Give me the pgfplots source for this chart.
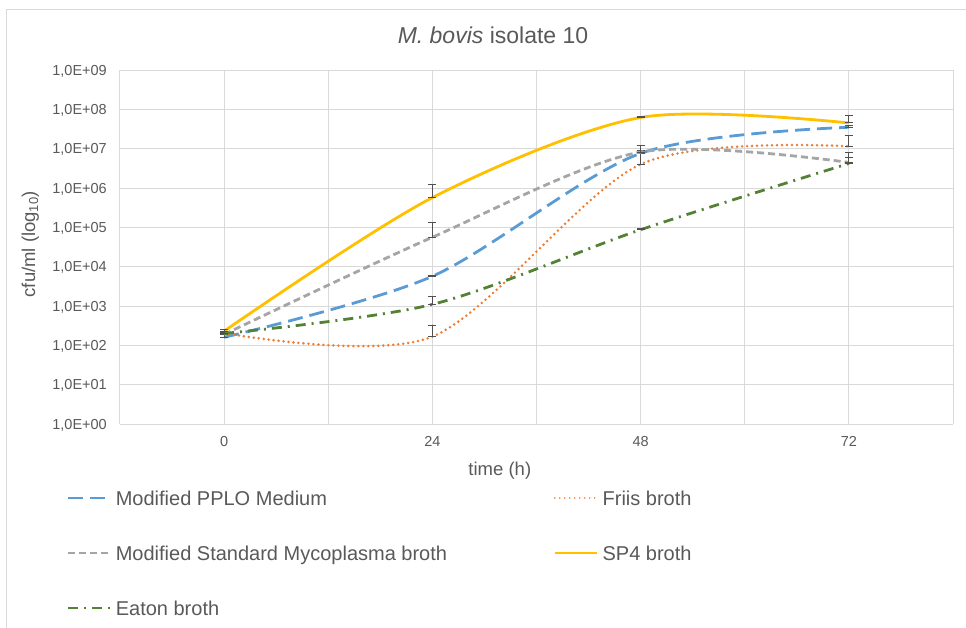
\documentclass[border=0pt]{standalone}
\usepackage{fontspec}
\setmainfont{Liberation Sans}
\usepackage{pgfplots}
\pgfplotsset{compat=1.18}
\definecolor{textgray}{HTML}{595959}
\definecolor{gridgray}{HTML}{D9D9D9}
\definecolor{errgray}{HTML}{505050}
\definecolor{cblue}{HTML}{5B9BD5}
\definecolor{corange}{HTML}{ED7D31}
\definecolor{cgray}{HTML}{A5A5A5}
\definecolor{cgold}{HTML}{FFC000}
\definecolor{cgreen}{HTML}{548235}
\begin{document}
\begin{tikzpicture}
\useasboundingbox (-120pt,-203pt) rectangle (846pt,424pt);
\draw[gridgray, line width=1pt] (-113pt,-300pt) -- (-113pt,414pt) -- (900pt,414pt);
\begin{axis}[
  at={(0pt,0pt)}, anchor=south west,
  scale only axis, width=833pt, height=354pt,
  xmin=-12, xmax=84,
  ymode=log, log basis y=10, ymin=1, ymax=1e9,
  xtick={0,24,48,72}, xticklabels={0,24,48,72},
  minor xtick={-12,12,36,60,84},
  ytick={1,10,100,1000,10000,100000,1000000,10000000,100000000,1000000000},
  yticklabels={{1,0E+00},{1,0E+01},{1,0E+02},{1,0E+03},{1,0E+04},{1,0E+05},{1,0E+06},{1,0E+07},{1,0E+08},{1,0E+09}},
  yminorticks=false,
  xmajorgrids, xminorgrids, ymajorgrids,
  grid style={draw=gridgray, line width=1pt},
  minor grid style={draw=gridgray, line width=1pt},
  major tick length=0pt, minor tick length=0pt,
  axis line style={draw=none},
  /pgf/number format/assume math mode=true,
  tick label style={font=\fontsize{14.5}{17}\selectfont, color=textgray},
  yticklabel style={anchor=base east, inner sep=0pt, xshift=-13pt, yshift=-5.2pt},
  xticklabel style={anchor=north, inner sep=0pt, yshift=-12pt},
  title={\textit{M. bovis} isolate 10},
  every axis title/.style={at={(axis description cs:0.4478,1.0754)}, anchor=base, font=\fontsize{23}{27}\selectfont, color=textgray},
  xlabel={time (h)},
  every axis x label/.style={at={(axis description cs:0.456,-0.146)}, anchor=base, font=\fontsize{18.5}{22}\selectfont, color=textgray},
  ylabel={cfu/ml (log\textsubscript{10})},
  every axis y label/.style={at={(axis description cs:-0.102,0.508)}, rotate=90, anchor=base, font=\fontsize{18.5}{22}\selectfont, color=textgray},
  legend columns=2,
  legend cell align=left,
  legend image code/.code={\draw[#1, line width=1.8pt] (0pt,2pt) -- (42pt,2pt);},
  legend style={at={(axis description cs:-0.0636,-0.1884)}, anchor=north west, draw=none, fill=none, inner sep=0pt, outer sep=0pt,
    row sep=36.5pt, font=\fontsize{20}{24}\selectfont, text=textgray,
    nodes={inner sep=0pt, text height=14.5pt, text depth=4pt},
    /tikz/every odd column/.append style={column sep=5pt},
    /tikz/every even column/.append style={column sep=8pt}},
  every axis plot/.append style={smooth, tension=0.5, line width=2.8pt, no markers},
  error bars/y dir=both, error bars/y explicit,
  error bars/error bar style={solid, line width=1pt, color=errgray},
  error bars/error mark options={solid, rotate=90, mark size=4pt, line width=1pt, color=errgray},
]
% Modified PPLO Medium
\addplot[cblue, dash pattern=on 15pt off 7pt] coordinates {
  (0,160) += (0,25) -= (0,0)
  (24,5700) += (0,150) -= (0,0)
  (48,7.6e6) += (0,1.5e6) -= (0,0)
  (72,3.5e7) += (0,4e6) -= (0,0)
};
\addlegendentry{\makebox[430pt][l]{Modified PPLO Medium}}
% Friis broth
\addplot[corange, dash pattern=on 0pt off 5pt, line cap=round] coordinates {
  (0,205) += (0,15) -= (0,0)
  (24,167) += (0,158) -= (0,0)
  (48,4.0e6) += (0,4.0e6) -= (0,0)
  (72,1.15e7) += (0,9.5e6) -= (0,0)
};
\addlegendentry{Friis broth}
% Modified Standard Mycoplasma broth
\addplot[cgray, dash pattern=on 7pt off 4pt] coordinates {
  (0,190) += (0,20) -= (0,0)
  (24,5.6e4) += (0,7.7e4) -= (0,0)
  (48,8.2e6) += (0,3.9e6) -= (0,0)
  (72,4.47e6) += (0,3.3e6) -= (0,0)
};
\addlegendentry{Modified Standard Mycoplasma broth}
% SP4 broth
\addplot[cgold, solid] coordinates {
  (0,230) += (0,20) -= (0,0)
  (24,5.7e5) += (0,6.5e5) -= (0,0)
  (48,6.2e7) += (0,2e6) -= (0,0)
  (72,4.5e7) += (0,2.6e7) -= (0,0)
};
\addlegendentry{SP4 broth}
% Eaton broth
\addplot[cgreen, dash pattern=on 10pt off 6pt on 2pt off 6pt] coordinates {
  (0,200) += (0,20) -= (0,0)
  (24,1100) += (0,620) -= (0,0)
  (48,8.7e4) += (0,8e3) -= (0,0)
  (72,4.2e6) += (0,1.8e6) -= (0,0)
};
\addlegendentry{Eaton broth}
\end{axis}
\end{tikzpicture}
\end{document}
